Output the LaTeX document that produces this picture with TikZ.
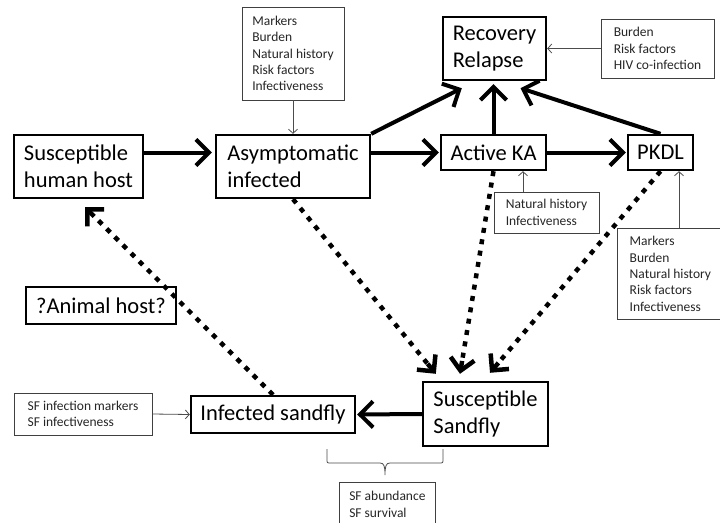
\documentclass[tikz,border=0pt]{standalone}
\usepackage{fontspec}
\setmainfont{Carlito}
\usetikzlibrary{arrows.meta,calc}
\begin{document}
\begin{tikzpicture}[x=1pt,y=-1pt,
  bigbox/.style={draw, line width=2.4pt, align=left, inner sep=0pt, font=\fontsize{22.5}{27}\selectfont},
  smallbox/.style={draw=black!75, line width=0.8pt, align=left, inner sep=0pt, text=black!85, font=\fontsize{13.5}{16.3}\selectfont},
  flow/.style={line width=4pt, -{Straight Barb[length=13pt,width=26pt]}},
  vector/.style={line width=4.5pt, dash pattern=on 5pt off 6.5pt},
  vtip/.style={line width=4.5pt, solid, -{Straight Barb[length=12pt,width=24pt]}},
  info/.style={line width=0.8pt, black!70, -{Straight Barb[length=4pt,width=9pt]}}
]
\useasboundingbox (0,0) rectangle (720,522);
\clip (0,0) rectangle (720,522);
\fill[white] (0,0) rectangle (720,522);

% main boxes
\node[bigbox, minimum width=129pt, minimum height=63pt] (shh) at (78.5,166.5) {Susceptible\\human host};
\node[bigbox, minimum width=154pt, minimum height=63pt] (asym) at (293,166.5) {Asymptomatic\\infected};
\node[bigbox, minimum width=103pt, minimum height=63pt] (rec) at (494.5,48.5) {Recovery\\Relapse};
\node[bigbox, minimum width=105pt, minimum height=35pt] (aka) at (493.5,152.5) {Active KA};
\node[bigbox, minimum width=65pt, minimum height=35pt] (pkdl) at (660.5,152.5) {PKDL};
\node[bigbox, minimum width=150pt, minimum height=37pt] (animal) at (101,305.5) {?Animal host?};
\node[bigbox, minimum width=164pt, minimum height=37pt] (isf) at (273,414.5) {Infected sandfly};
\node[bigbox, minimum width=125pt, minimum height=64pt] (ssf) at (485.5,414) {Susceptible\\Sandfly};

% info boxes
\node[smallbox, minimum width=102pt, minimum height=93pt] (m1) at (293,53.5) {Markers\\Burden\\Natural history\\Risk factors\\Infectiveness};
\node[smallbox, minimum width=113pt, minimum height=59pt] (m2) at (657.5,48.5) {Burden\\Risk factors\\HIV co-infection};
\node[smallbox, minimum width=105pt, minimum height=41pt] (m3) at (546.5,212.5) {Natural history\\Infectiveness};
\node[smallbox, anchor=north west, minimum width=106pt, minimum height=91pt] (m4) at (617,228) {Markers\\Burden\\Natural history\\Risk factors\\Infectiveness};
\node[smallbox, minimum width=138pt, minimum height=42pt] (sfm) at (83,414) {SF infection markers\\SF infectiveness};
\node[smallbox, anchor=north west, minimum width=96pt, minimum height=44pt] (sfa) at (339,482) {SF abundance\\SF survival};

% solid flows
\draw[flow, shorten >=3pt] (shh.east |- aka.west) -- (asym.west |- aka.west);
\draw[flow, shorten >=1pt] (asym.east |- aka.west) -- (aka.west);
\draw[flow, shorten >=1pt] (aka.east) -- (pkdl.west);
\draw[flow] (asym.north east) -- ($(rec.south west)+(20,7)$);
\draw[flow] (aka.north) -- ($(aka.north |- rec.south)+(0,3)$);
\draw[flow] (pkdl.north) -- ($(rec.south)+(26,7)$);
\draw[flow, shorten >=1pt] (ssf.west) -- (isf.east);

% dotted flows (dotted shaft, solid tip)
\coordinate (e1) at ($(ssf.north west)+(14,-7)$);
\coordinate (e2) at ($(ssf.north)+(-25.5,-7)$);
\coordinate (e3) at ($(ssf.north)+(4.5,-8)$);
\coordinate (e4) at ($(shh.south)+(6.5,8)$);
\coordinate (d1) at ($(e1)!13pt!(asym.south)$);
\coordinate (d2) at ($(e2)!13pt!(aka.south)$);
\coordinate (d3) at ($(e3)!13pt!(pkdl.south)$);
\coordinate (d4) at ($(e4)!13pt!(isf.north)$);
\draw[vector] (asym.south) -- (d1);
\draw[vtip] (d1) -- (e1);
\draw[vector] (aka.south) -- (d2);
\draw[vtip] (d2) -- (e2);
\draw[vector] (pkdl.south) -- (d3);
\draw[vtip] (d3) -- (e3);
\draw[vector] (isf.north) -- (d4);
\draw[vtip] (d4) -- (e4);

% thin info arrows
\draw[info] (m1.south) -- (asym.north);
\draw[info] (m2.west) -- (rec.east);
\coordinate (t1) at ($(aka.south)+(29.5,0)$);
\draw[info] (m3.north -| t1) -- (t1);
\coordinate (t2) at ($(pkdl.south)+(18.5,0)$);
\draw[info] (m4.north -| t2) -- (t2);
\draw[info] (sfm.east) -- (isf.west);

% brace
\draw[line width=0.8pt, black!70] (327,449) -- (327,459) .. controls (327,463) .. (331,463) -- (380,463)
  .. controls (384,463) and (385,466) .. (385,475) .. controls (385,466) and (386,463) .. (390,463)
  -- (439,463) .. controls (443,463) .. (443,459) -- (443,449);
\end{tikzpicture}
\end{document}
